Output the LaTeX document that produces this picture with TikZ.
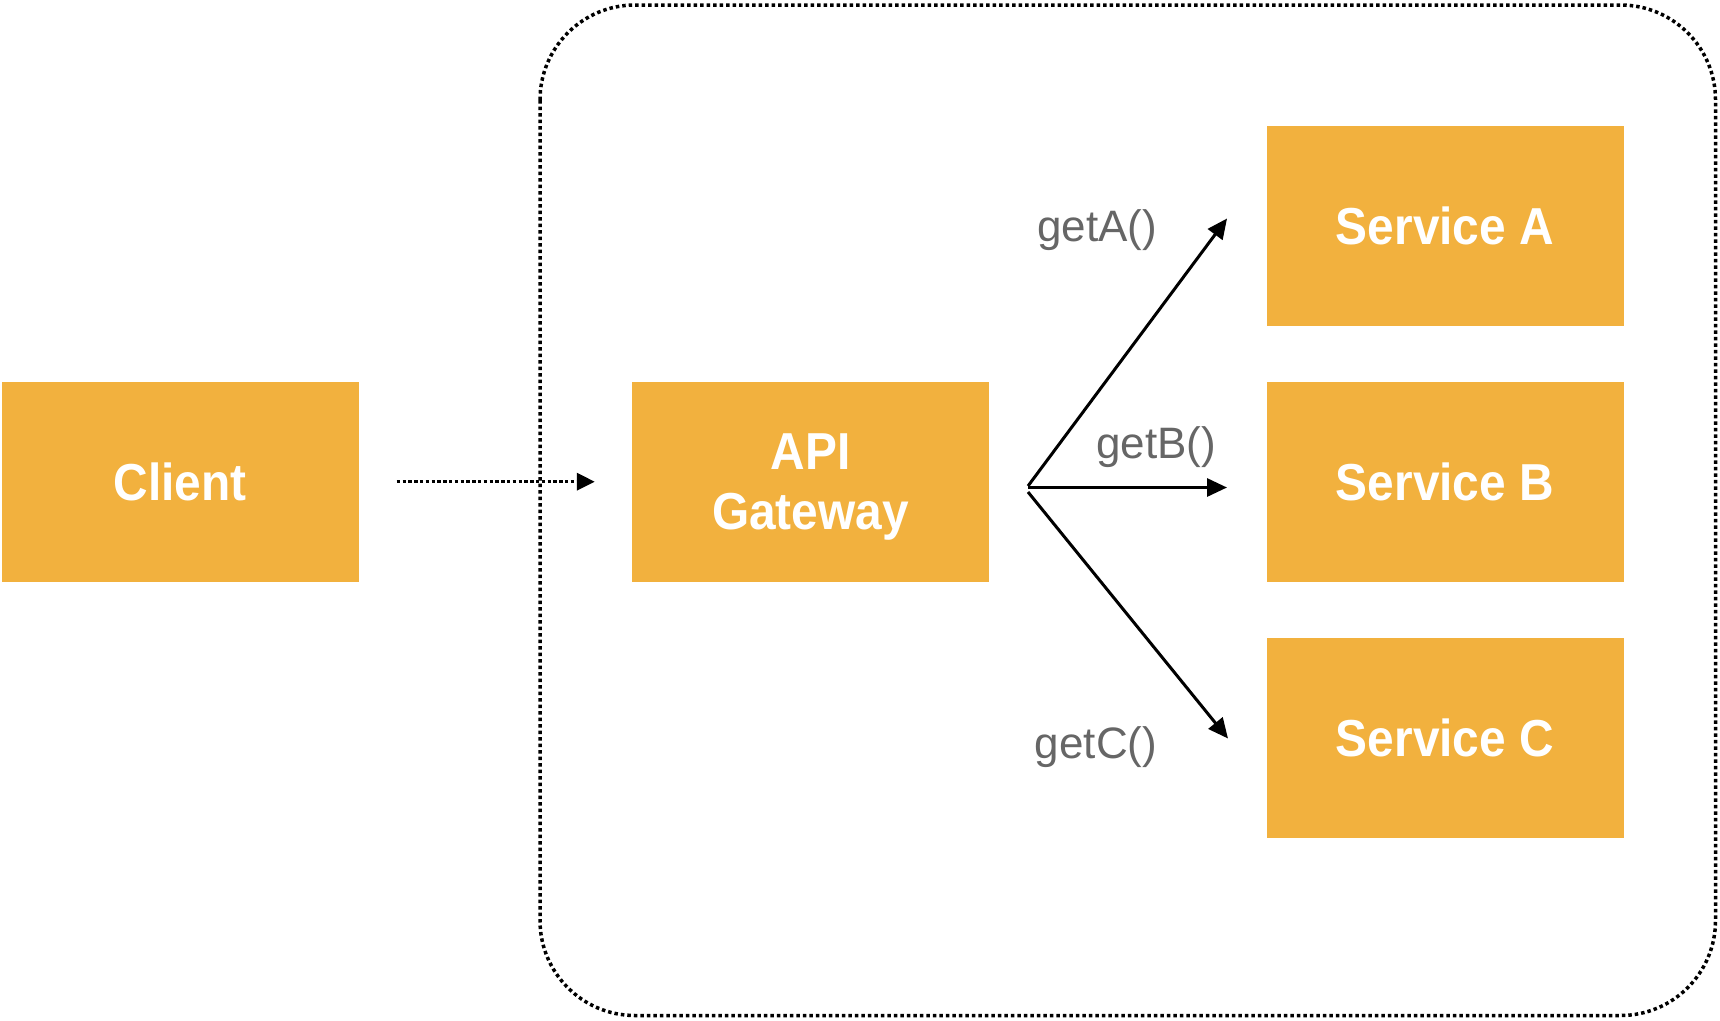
\documentclass[tikz,border=0pt]{standalone}
\usepackage{fontspec}
\setmainfont{Liberation Sans}
\newfontfamily\boxfont[FakeStretch=0.92]{Liberation Sans}
\usetikzlibrary{arrows.meta}
\definecolor{boxorange}{HTML}{F2B13E}
\definecolor{labelgray}{HTML}{666666}
\tikzset{
  svcbox/.style={fill=boxorange, draw=none, minimum width=357pt, minimum height=200pt,
    inner sep=0pt, text=white, font=\boxfont\bfseries\fontsize{52pt}{60pt}\selectfont,
    align=center},
  calllabel/.style={text=labelgray, font=\fontsize{44pt}{50pt}\selectfont, inner sep=0pt, anchor=base},
  callarrow/.style={line width=3pt, -{Triangle[length=20pt,width=18pt]}},
  dotarrow/.style={line width=3.5pt, dash pattern=on 3.5pt off 2.3pt, -{Triangle[length=18pt,width=17pt]}},
  container/.style={line width=3.5pt, dash pattern=on 3.5pt off 3pt, rounded corners=95pt}
}
\begin{document}
\begin{tikzpicture}[x=1pt,y=-1pt]
\useasboundingbox (0,0) rectangle (1720,1020);
\fill[white] (0,0) rectangle (1720,1020);
% container
\draw[container] (540,5) rectangle (1715.5,1015.5);
% boxes
\node[svcbox] (client) at (180,481.7) {Client};
\node[svcbox, text depth=0pt] (gw) at (810.5,481.7) {API\\Gateway};
\node[svcbox] (sa) at (1445,226) {Service A};
\node[svcbox] (sb) at (1445,481.7) {Service B};
\node[svcbox] (sc) at (1445,738) {Service C};
% dotted arrow
\draw[dotarrow, shorten <=38pt, shorten >=37pt] (client.east) -- (gw.west);
% fan
\coordinate (fa) at (1028,486);
\coordinate (fb) at (1028,487.5);
\coordinate (fc) at (1028,492);
\coordinate (ta) at (1227,218.5);
\coordinate (tb) at (1227,487.5);
\coordinate (tc) at (1228,738.5);
\draw[callarrow] (fa) -- (ta);
\draw[callarrow] (fb) -- (tb);
\draw[callarrow] (fc) -- (tc);
% labels
\node[calllabel] (la) at (1097,241) {getA()};
\node[calllabel] (lb) at (1156,458) {getB()};
\node[calllabel] (lc) at (1096,758) {getC()};
\end{tikzpicture}
\end{document}
